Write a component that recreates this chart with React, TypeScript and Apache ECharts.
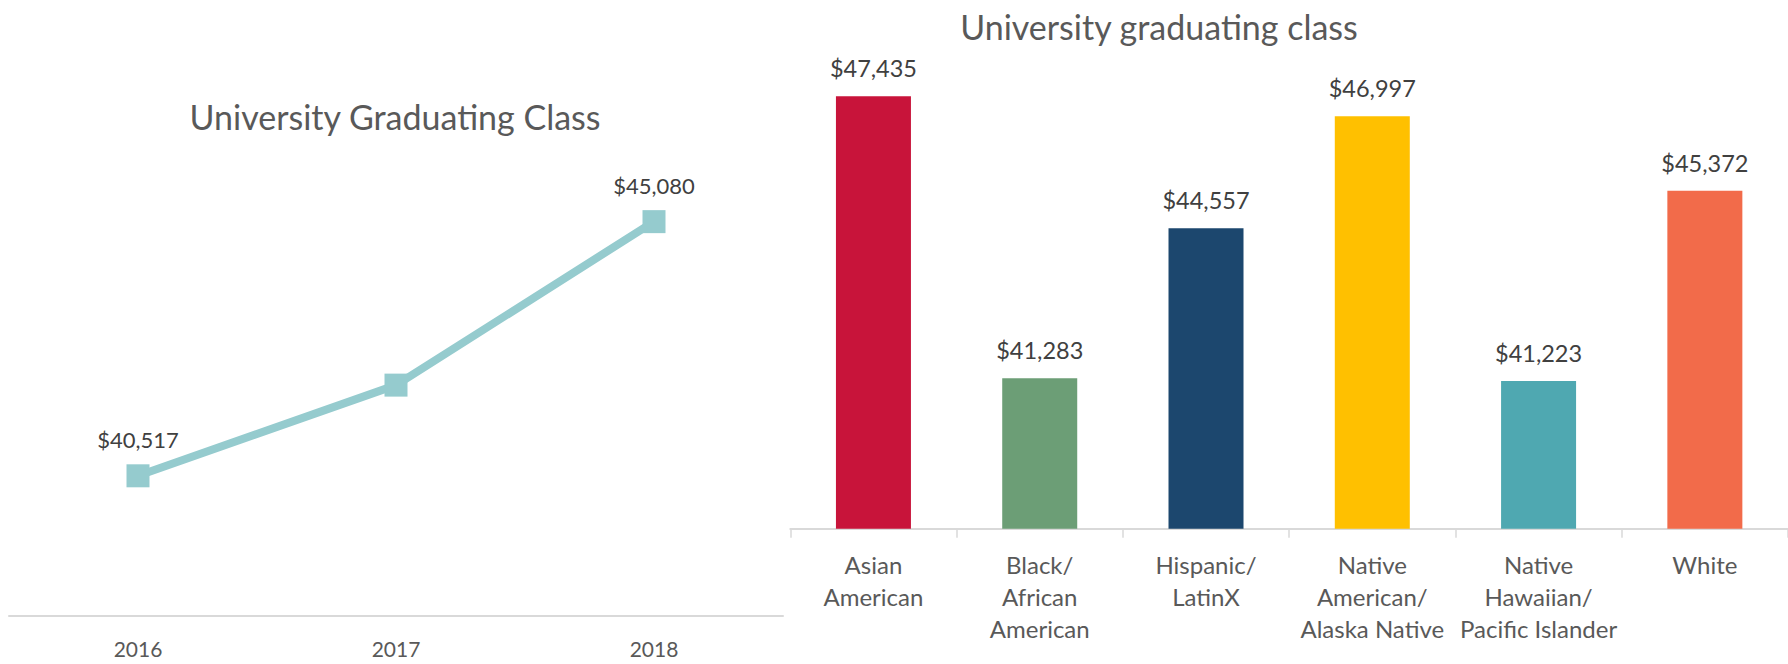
import React, { useEffect, useRef } from "react";
import * as echarts from "echarts";

const years = ["2016", "2017", "2018"];
const yearSalaries = [40517, 42145, 45080];
const yearLabelShown = [true, false, true];

const groups = [
  "Asian\nAmerican",
  "Black/\nAfrican\nAmerican",
  "Hispanic/\nLatinX",
  "Native\nAmerican/\nAlaska Native",
  "Native\nHawaiian/\nPacific Islander",
  "White",
];
const groupSalaries = [47435, 41283, 44557, 46997, 41223, 45372];
const groupColors = ["#C8143A", "#6C9E76", "#1C476E", "#FFC000", "#4FA8B1", "#F26B4A"];

const FONT = "Lato";
const money = (v: number) => "$" + v.toLocaleString("en-US");

export default function App() {
  const ref = useRef<HTMLDivElement>(null);
  useEffect(() => {
    document.body.style.margin = "0";
    if (!ref.current) return;
    const chart = echarts.init(ref.current, null, { renderer: "svg" });
    const titleStyle = { fontSize: 34, fontFamily: FONT, color: "#595959", fontWeight: "normal" as const };
    chart.setOption({
      animation: false,
      backgroundColor: "#ffffff",
      title: [
        { text: "University Graduating Class", left: 395, top: 99, textAlign: "center", padding: 0, textStyle: titleStyle },
        { text: "University graduating class", left: 1159, top: 9, textAlign: "center", padding: 0, textStyle: titleStyle },
      ],
      grid: [
        { left: 9, right: 1005, top: 170.4, bottom: 40 },
        { left: 790.3, right: -10.3, top: 70.3, bottom: 135.3 },
      ],
      xAxis: [
        {
          type: "category",
          gridIndex: 0,
          data: years,
          axisLine: { lineStyle: { color: "#D9D9D9", width: 2 } },
          axisTick: { show: false },
          axisLabel: { fontFamily: FONT, fontSize: 21, color: "#595959", margin: 16, lineHeight: 32 },
        },
        {
          type: "category",
          gridIndex: 1,
          data: groups,
          axisLine: { lineStyle: { color: "#D9D9D9", width: 2 } },
          axisTick: { show: true, length: 9, lineStyle: { color: "#D9D9D9", width: 1.5 } },
          axisLabel: { fontFamily: FONT, fontSize: 24, color: "#595959", margin: 20, lineHeight: 32, interval: 0 },
        },
      ],
      yAxis: [
        { type: "value", gridIndex: 0, min: 38000, max: 46000, show: false, splitLine: { show: false } },
        { type: "value", gridIndex: 1, min: 38000, max: 48000, show: false, splitLine: { show: false } },
      ],
      series: [
        {
          type: "line",
          xAxisIndex: 0,
          yAxisIndex: 0,
          data: yearSalaries.map((v, i) => ({ value: v, label: { show: yearLabelShown[i] } })),
          symbol: "rect",
          symbolSize: 23,
          lineStyle: { color: "#95CBCE", width: 8 },
          itemStyle: { color: "#95CBCE" },
          label: {
            show: true,
            position: "top",
            distance: 14,
            fontFamily: FONT,
            fontSize: 22,
            color: "#404040",
            formatter: (p: any) => money(p.value),
          },
        },
        {
          type: "bar",
          xAxisIndex: 1,
          yAxisIndex: 1,
          barWidth: 75,
          data: groupSalaries.map((v, i) => ({ value: v, itemStyle: { color: groupColors[i] } })),
          label: {
            show: true,
            position: "top",
            distance: 16,
            fontFamily: FONT,
            fontSize: 23.5,
            color: "#404040",
            formatter: (p: any) => money(p.value),
          },
        },
      ],
    });
    return () => chart.dispose();
  }, []);
  return <div ref={ref} style={{ width: 1788, height: 664 }} />;
}
